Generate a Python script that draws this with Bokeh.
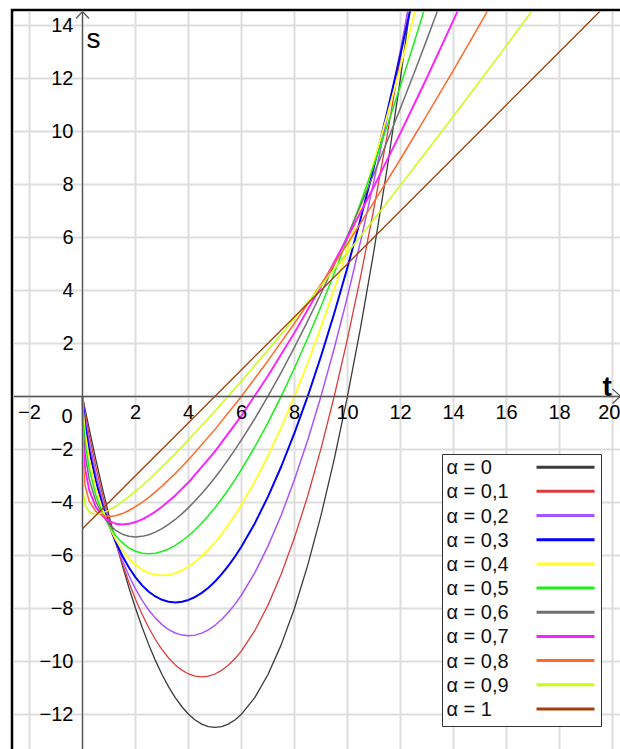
from bokeh.plotting import figure
from bokeh.models import Range1d, FixedTicker
from bokeh.core.properties import value
from bokeh.embed import file_html
from bokeh.resources import INLINE

# ---------------- data ----------------
T_FINE = [0, 0.02, 0.1, 0.25, 0.5, 0.75, 1, 1.25, 1.5, 1.75, 2, 2.25, 2.5, 2.75,
          3, 3.25, 3.5, 3.75, 4, 4.25, 4.5, 4.75, 5, 5.25, 5.5, 5.75, 6, 6.5, 7,
          7.5, 8, 8.5, 9, 9.5, 10, 10.5, 11, 11.5, 12, 12.5, 13, 13.5]
T_COARSE = [0, 0.02, 0.1, 0.25, 0.5, 0.75, 1, 1.25, 1.5, 1.75, 2, 2.25, 2.5, 2.75,
            3, 3.5, 4, 5, 6, 7, 8, 9, 10, 11, 12, 13, 14, 15, 16, 17, 18, 19, 20]

S_ALPHA_00 = [0, -0.0998, -0.495, -1.219, -2.375, -3.469, -4.5,
              -5.469, -6.375, -7.219, -8, -8.719, -9.375, -9.969, -10.5, -10.969,
              -11.375, -11.719, -12, -12.219, -12.375, -12.469, -12.5, -12.469,
              -12.375, -12.219, -12,
              -11.375, -10.5, -9.375, -8, -6.375, -4.5, -2.375, 0, 2.625, 5.5,
              8.625, 12, 15.625]
S_ALPHA_01 = [0, -0.154, -0.648, -1.454, -2.639, -3.696, -4.651,
              -5.519, -6.306, -7.018, -7.659, -8.231, -8.738, -9.181, -9.560,
              -9.880, -10.139, -10.339, -10.481, -10.565, -10.594, -10.566,
              -10.483, -10.345, -10.152, -9.907, -9.608,
              -8.850, -7.884, -6.711, -5.335, -3.757, -1.978, -0.002, 2.172,
              4.540, 7.102, 9.857, 12.802, 15.938]
S_ALPHA_02 = [0, -0.234, -0.841, -1.722, -2.912, -3.909, -4.772,
              -5.526, -6.188, -6.766, -7.270, -7.703, -8.070, -8.374, -8.619,
              -8.806, -8.937, -9.015, -9.041, -9.016, -8.941, -8.817, -8.645,
              -8.428, -8.164, -7.856, -7.502,
              -6.665, -5.658, -4.484, -3.147, -1.651, 0.001, 1.808, 3.765, 5.872,
              8.125, 10.523, 13.065, 15.750]
S_ALPHA_03 = [0, -0.355, -1.085, -2.024, -3.188, -4.102, -4.856,
              -5.487, -6.019, -6.466, -6.836, -7.138, -7.377, -7.557, -7.683,
              -7.756, -7.781, -7.757, -7.688, -7.576, -7.422, -7.226, -6.991,
              -6.717, -6.405, -6.057, -5.673,
              -4.800, -3.791, -2.653, -1.388, 0.000, 1.507, 3.130, 4.867, 6.715,
              8.671, 10.734, 12.902, 15.173]
S_ALPHA_04 = [0, -0.534, -1.388, -2.360, -3.461, -4.267, -4.897,
              -5.398, -5.799, -6.116, -6.361, -6.543, -6.667, -6.738, -6.761,
              -6.739, -6.675, -6.570, -6.428, -6.250, -6.037, -5.790, -5.512,
              -5.203, -4.863, -4.495, -4.099,
              -3.226, -2.248, -1.172, 0.000, 1.263, 2.614, 4.051, 5.570, 7.169,
              8.846, 10.599, 12.427, 14.326, 16.297]
S_ALPHA_05 = [0, -0.796, -1.760, -2.727, -3.724, -4.398, -4.890,
              -5.257, -5.528, -5.722, -5.851, -5.924, -5.947, -5.925, -5.863,
              -5.764, -5.629, -5.463, -5.266, -5.040, -4.787, -4.508, -4.205,
              -3.878, -3.528, -3.156, -2.763,
              -1.917, -0.995, 0.001, 1.065, 2.194, 3.386, 4.638, 5.948, 7.314,
              8.734, 10.206, 11.728, 13.300, 14.920]
S_ALPHA_06 = [0, -1.175, -2.211, -3.121, -3.966, -4.485, -4.830,
              -5.061, -5.207, -5.287, -5.311, -5.289, -5.226, -5.128, -4.997,
              -4.837, -4.651, -4.439, -4.205, -3.949, -3.673, -3.378, -3.065,
              -2.735, -2.388, -2.026, -1.649,
              -0.851, 0.000, 0.901, 1.849, 2.842, 3.877, 4.952, 6.066, 7.217,
              8.402, 9.622, 10.875, 12.159, 13.474, 14.820]
S_ALPHA_07 = [0, -1.718, -2.749, -3.534, -4.177, -4.521, -4.714, -4.811, -4.840,
              -4.815, -4.748, -4.646, -4.513, -4.354, -4.171, -3.744, -3.248,
              -2.083, -0.733, 0.769, 2.399, 4.143, 5.986, 7.919, 9.935, 12.026,
              14.189, 16.417]
S_ALPHA_08 = [0, -2.482, -3.379, -3.955, -4.346, -4.498, -4.538, -4.508, -4.429,
              -4.314, -4.170, -4.003, -3.815, -3.611, -3.392, -2.915, -2.395,
              -1.252, 0.000, 1.340, 2.752, 4.225, 5.754, 7.331, 8.951, 10.612,
              12.309, 14.040, 15.803]
S_ALPHA_09 = [0, -3.541, -4.099, -4.367, -4.458, -4.410, -4.300, -4.153, -3.980,
              -3.789, -3.584, -3.368, -3.142, -2.907, -2.666, -2.166, -1.646,
              -0.561, 0.572, 1.742, 2.942, 4.167, 5.414, 6.680, 7.964, 9.263,
              10.576, 11.902, 13.240, 14.589, 15.948]
S_ALPHA_10 = [-5, -4.98, -4.9, -4.75, -4.5, -4.25, -4, -3.75, -3.5, -3.25, -3,
              -2.75, -2.5, -2.25, -2, -1.5, -1, 0, 1, 2, 3, 4, 5, 6, 7, 8, 9, 10,
              11, 12, 13, 14, 15]

SERIES = [S_ALPHA_00, S_ALPHA_01, S_ALPHA_02, S_ALPHA_03, S_ALPHA_04, S_ALPHA_05,
          S_ALPHA_06, S_ALPHA_07, S_ALPHA_08, S_ALPHA_09, S_ALPHA_10]
SERIES_T = [T_FINE, T_FINE, T_FINE, T_FINE, T_FINE, T_FINE, T_FINE,
            T_COARSE, T_COARSE, T_COARSE, T_COARSE]
LEGEND_LABELS = ["α = 0", "α = 0,1", "α = 0,2", "α = 0,3", "α = 0,4", "α = 0,5",
                 "α = 0,6", "α = 0,7", "α = 0,8", "α = 0,9", "α = 1"]

X_TICKS = [-2, 0, 2, 4, 6, 8, 10, 12, 14, 16, 18, 20]
X_TICK_LABELS = ["−2", "", "2", "4", "6", "8", "10", "12", "14", "16", "18", "20"]
Y_TICKS = [-12, -10, -8, -6, -4, -2, 0, 2, 4, 6, 8, 10, 12, 14]
Y_TICK_LABELS = ["−12", "−10", "−8", "−6", "−4", "−2", "", "2", "4", "6", "8",
                 "10", "12", "14"]
ORIGIN_LABEL = "0"
X_NAME, Y_NAME = "t", "s"

# ---------------- styles ----------------
COLORS = ["#3a3a3a", "#dd3c3c", "#a855ff", "#0000ff", "#ffff22", "#18f018",
          "#707070", "#ff1eff", "#ff6a28", "#c8ff10", "#a0400f"]
WIDTHS = [1.3, 1.3, 1.5, 2.0, 1.8, 1.5, 1.5, 1.9, 1.5, 1.5, 1.3]
FONT = "Liberation Sans"

# page-pixel geometry
PX = 26.5               # pixels per unit
OX, OY = 82.0, 395.7    # origin on the page
def dx(px):
    return (px - OX) / PX
def dy(py):
    return (OY - py) / PX

p = figure(width=610, height=741, output_backend="svg", toolbar_location=None,
           x_range=Range1d(dx(13), dx(620)), y_range=Range1d(dy(749), dy(11)),
           min_border_left=3, min_border_top=3, min_border_right=0,
           min_border_bottom=0, border_fill_color="black",
           background_fill_color="white", outline_line_color=None,
           margin=(8, 0, 0, 10))

# axes through the origin
for ax, ticks, labels in ((p.xaxis, X_TICKS, X_TICK_LABELS),
                          (p.yaxis, Y_TICKS, Y_TICK_LABELS)):
    ax.fixed_location = 0
    ax.ticker = FixedTicker(ticks=ticks)
    ax.major_label_overrides = {t: l for t, l in zip(ticks, labels)}
    ax.axis_line_color = "#555555"
    ax.axis_line_width = 1.3
    ax.major_tick_line_color = None
    ax.minor_tick_line_color = None
    ax.major_tick_in = 0
    ax.major_tick_out = 0
    ax.major_label_text_font = FONT
    ax.major_label_text_font_size = "20px"
    ax.major_label_text_color = "black"
p.xaxis.major_label_standoff = 9
p.yaxis.major_label_standoff = 9

p.grid.grid_line_color = "#dddddd"
p.grid.grid_line_width = 2

# curves
for t, s, c, w in zip(SERIES_T, SERIES, COLORS, WIDTHS):
    p.line(t[:len(s)], s, line_color=c, line_width=w, line_join="round")

# arrow heads of the axes
p.line([dx(OX - 6.5), 0, dx(OX + 6.5)], [dy(18), dy(11), dy(18)],
       line_color="#555555", line_width=1.2)
p.line([dx(612), dx(620), dx(612)], [dy(388.5), 0, dy(403)],
       line_color="#555555", line_width=1.2)

# axis names and origin label
p.text(x=[dx(86)], y=[dy(38)], text=[Y_NAME], text_font=value(FONT),
       text_font_size="28px", text_align="left", text_baseline="alphabetic",
       text_color="black")
p.text(x=[dx(602)], y=[dy(386)], text=[X_NAME], text_font=value(FONT),
       text_font_size="28px", text_font_style="bold", text_align="left",
       text_baseline="alphabetic", text_color="black")
p.text(x=[dx(66.5)], y=[dy(415)], text=[ORIGIN_LABEL], text_font=value(FONT),
       text_font_size="20px", text_align="center", text_baseline="middle",
       text_color="black")

# legend (label left, line sample right)
p.quad(left=[dx(442)], right=[dx(601)], top=[dy(454)], bottom=[dy(726)],
       fill_color="white", line_color="#333333", line_width=1)
rows_y = [dy(466.7 + 24.17 * i) for i in range(len(LEGEND_LABELS))]
p.text(x=[dx(446)] * len(LEGEND_LABELS), y=rows_y, text=LEGEND_LABELS,
       text_font=value(FONT), text_font_size="20px", text_align="left",
       text_baseline="middle", text_color="#111111")
p.segment(x0=[dx(536)] * len(COLORS), x1=[dx(594)] * len(COLORS), y0=rows_y,
          y1=rows_y, line_color=COLORS, line_width=3)

open("out.html", "w").write(file_html(p, INLINE))
